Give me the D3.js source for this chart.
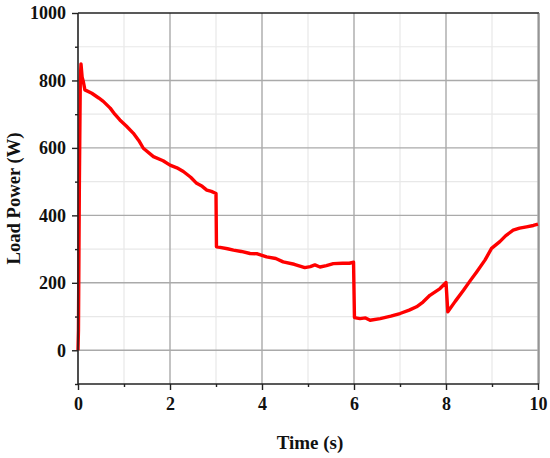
<!DOCTYPE html>
<html>
<head>
<meta charset="utf-8">
<script src="https://cdn.jsdelivr.net/npm/d3@7"></script>
<style>
  html, body { margin: 0; padding: 0; background: #fff; }
  svg text { font-family: "Liberation Serif", "Times New Roman", serif; font-weight: bold; }
</style>
</head>
<body>
<svg id="chart" width="550" height="458"></svg>
<script>
// Data
const timeS = [0, 0.01, 0.03, 0.05, 0.065, 0.09, 0.115, 0.15, 0.3, 0.45, 0.55, 0.70, 0.80, 0.91, 1.05, 1.20, 1.32, 1.42, 1.64, 1.85, 2.0, 2.15, 2.29, 2.45, 2.58, 2.70, 2.80, 2.90, 3.0,
  3.01, 3.09, 3.25, 3.38, 3.55, 3.74, 3.90, 4.10, 4.30, 4.46, 4.70, 4.93, 5.05, 5.15, 5.26, 5.40, 5.55, 5.75, 5.90, 5.99,
  6.01, 6.13, 6.25, 6.35, 6.57, 6.80, 7.0, 7.20, 7.36, 7.50, 7.65, 7.87, 8.0,
  8.04, 8.20, 8.38, 8.52, 8.67, 8.85, 8.99, 9.17, 9.30, 9.46, 9.60, 9.75, 9.90, 10.0];
const loadPowerW = [0, 60, 500, 800, 849, 810, 797, 772, 762, 748, 738, 718, 700, 683, 665, 644, 622, 599, 574, 562, 549, 541, 530, 513, 495, 486, 475, 471, 465,
  307, 305, 301, 297, 293, 287, 286, 277, 272, 262, 255, 245, 248, 253, 247, 251, 257, 258, 258, 261,
  97, 94, 96, 89, 94, 101, 109, 119, 129, 143, 163, 183, 201,
  114, 145, 178, 205, 233, 268, 302, 322, 340, 356, 362, 366, 370, 374];
const xTicks = [0, 2, 4, 6, 8, 10];
const yTicks = [0, 200, 400, 600, 800, 1000];
const xMinor = [1, 3, 5, 7, 9];
const yMinor = [-100, 100, 300, 500, 700, 900];
const xLabel = "Time (s)";
const yLabel = "Load Power (W)";

const svg = d3.select("#chart");
const L = 78, R = 538, T = 13, B = 384;
const x = d3.scaleLinear().domain([0, 10]).range([L, R]);
const y = d3.scaleLinear().domain([-100, 1000]).range([B, T]);

// minor grid
svg.append("g").selectAll("line").data(xMinor).join("line")
  .attr("x1", d => x(d)).attr("x2", d => x(d)).attr("y1", T).attr("y2", B)
  .attr("stroke", "#e8e8e8").attr("stroke-width", 1.2);
svg.append("g").selectAll("line").data(yMinor.filter(d => d > -100)).join("line")
  .attr("y1", d => y(d)).attr("y2", d => y(d)).attr("x1", L).attr("x2", R)
  .attr("stroke", "#e8e8e8").attr("stroke-width", 1.2);
// major grid
svg.append("g").selectAll("line").data(xTicks.filter(d => d > 0)).join("line")
  .attr("x1", d => x(d)).attr("x2", d => x(d)).attr("y1", T).attr("y2", B)
  .attr("stroke", "#aaaaaa").attr("stroke-width", 1.4);
svg.append("g").selectAll("line").data(yTicks.filter(d => d < 1000)).join("line")
  .attr("y1", d => y(d)).attr("y2", d => y(d)).attr("x1", L).attr("x2", R)
  .attr("stroke", "#aaaaaa").attr("stroke-width", 1.4);

// frame top & right
svg.append("line").attr("x1", L).attr("x2", R + 1).attr("y1", T).attr("y2", T).attr("stroke", "#222").attr("stroke-width", 1.4);
svg.append("line").attr("x1", R + 1).attr("x2", R + 1).attr("y1", T).attr("y2", B).attr("stroke", "#777").attr("stroke-width", 1.2);

// data line
const line = d3.line().x((d, i) => x(timeS[i])).y(d => y(d));
svg.append("path").datum(loadPowerW).attr("d", line)
  .attr("fill", "none").attr("stroke", "#ff0000").attr("stroke-width", 3.4)
  .attr("stroke-linejoin", "round");

// axes
const xAxis = d3.axisBottom(x).tickValues(xTicks).tickSize(6).tickPadding(7).tickFormat(d3.format("d"));
const gx = svg.append("g").attr("transform", `translate(0,${B})`).call(xAxis);
svg.append("g").attr("transform", `translate(0,${B})`)
  .call(d3.axisBottom(x).tickValues(xMinor).tickSize(3).tickFormat(""))
  .select(".domain").remove();
const yAxis = d3.axisLeft(y).tickValues(yTicks).tickSize(6).tickPadding(6).tickFormat(d3.format("d"));
const gy = svg.append("g").attr("transform", `translate(${L},0)`).call(yAxis);
svg.append("g").attr("transform", `translate(${L},0)`)
  .call(d3.axisLeft(y).tickValues(yMinor).tickSize(3).tickFormat(""))
  .select(".domain").remove();

[gx, gy].forEach(g => {
  g.select(".domain").attr("stroke", "#222").attr("stroke-width", 1.6);
  g.selectAll(".tick text").attr("font-size", 18).attr("fill", "#111")
    .attr("font-family", "'Liberation Serif', serif").attr("font-weight", "bold");
});
svg.selectAll(".tick line").attr("stroke", "#222").attr("stroke-width", 1.4);
gy.select(".domain").attr("d", `M0,${B}V${T}`);
gx.select(".domain").attr("d", `M${L},0H${R + 1}`);

svg.append("text").attr("x", 310).attr("y", 449).attr("text-anchor", "middle")
  .attr("font-size", 19).attr("fill", "#111").text(xLabel);
svg.append("text").attr("transform", `translate(20,${(T + B) / 2}) rotate(-90)`)
  .attr("text-anchor", "middle").attr("font-size", 18).attr("fill", "#111")
  .attr("textLength", 132).attr("lengthAdjust", "spacingAndGlyphs").text(yLabel);
</script>
</body>
</html>
